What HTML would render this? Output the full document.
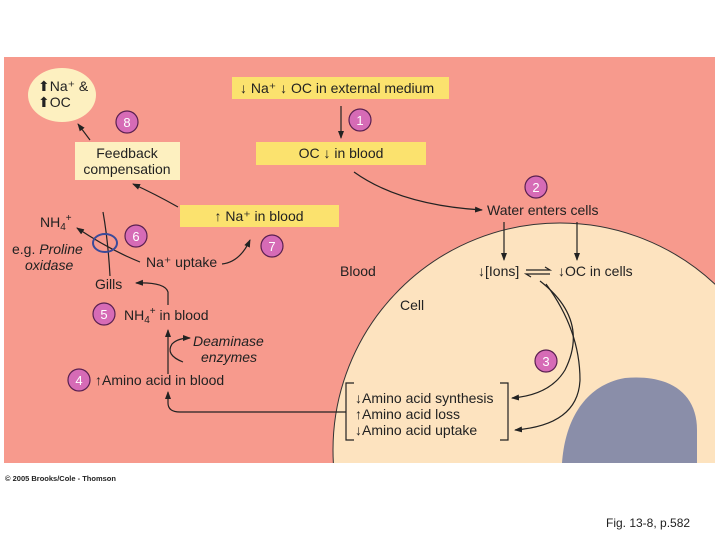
<!DOCTYPE html>
<html><head><meta charset="utf-8"><style>
html,body{margin:0;padding:0;background:#fff;width:720px;height:540px;overflow:hidden}
svg{display:block}
svg text{font-family:"Liberation Sans",sans-serif;fill:#222}
</style></head><body>
<svg width="720" height="540" viewBox="0 0 720 540" xmlns="http://www.w3.org/2000/svg">
<defs>
<clipPath id="pc"><rect x="4" y="57" width="711" height="406"/></clipPath>
<marker id="a" markerWidth="8" markerHeight="8" refX="7" refY="4" orient="auto" markerUnits="userSpaceOnUse"><path d="M0,1 L8,4 L0,7 Z" fill="#222"/></marker>
</defs>
<rect x="4" y="57" width="711" height="406" fill="#f79a8d"/>
<g clip-path="url(#pc)">
<circle cx="560" cy="450" r="227" fill="#fde3bf" stroke="#333" stroke-width="1"/>
<path d="M562,463 C565,420 585,385 625,378 C668,374 697,392 697,430 L697,470 L562,470 Z" fill="#8a8ea9"/>
</g>
<ellipse cx="62" cy="95" rx="34" ry="27" fill="#fdf0c0"/>
<text x="38" y="91" font-size="14">⬆Na⁺ &amp;</text>
<text x="38" y="107" font-size="14">⬆OC</text>
<rect x="232" y="77" width="217" height="22" fill="#fbe26e"/>
<text x="240" y="93" font-size="14">↓ Na⁺ ↓ OC in external medium</text>
<rect x="256" y="142" width="170" height="23" fill="#fbe26e"/>
<text x="341" y="158" font-size="14" text-anchor="middle">OC ↓ in blood</text>
<rect x="180" y="205" width="159" height="22" fill="#fbe26e"/>
<text x="259" y="221" font-size="14" text-anchor="middle">↑ Na⁺ in blood</text>
<rect x="75" y="142" width="105" height="38" fill="#fdf0c0"/>
<text x="127" y="158" font-size="14" text-anchor="middle">Feedback</text>
<text x="127" y="174" font-size="14" text-anchor="middle">compensation</text>
<g stroke="#5a2050" stroke-width="1.2" fill="#d66bb6">
<circle cx="360" cy="120" r="11"/><circle cx="536" cy="187" r="11"/><circle cx="546" cy="361" r="11"/>
<circle cx="79" cy="380" r="11"/><circle cx="104" cy="314" r="11"/><circle cx="136" cy="236" r="11"/>
<circle cx="272" cy="246" r="11"/><circle cx="127" cy="122" r="11"/>
</g>
<g font-size="13" text-anchor="middle">
<text x="360" y="125" style="fill:#fff">1</text><text x="536" y="192" style="fill:#fff">2</text><text x="546" y="366" style="fill:#fff">3</text>
<text x="79" y="385" style="fill:#fff">4</text><text x="104" y="319" style="fill:#fff">5</text><text x="136" y="241" style="fill:#fff">6</text>
<text x="272" y="251" style="fill:#fff">7</text><text x="127" y="127" style="fill:#fff">8</text>
</g>
<text x="487" y="215" font-size="14">Water enters cells</text>
<text x="478" y="276" font-size="14">↓[Ions]</text>
<text x="558" y="276" font-size="14">↓OC in cells</text>
<text x="340" y="276" font-size="14">Blood</text>
<text x="400" y="310" font-size="14">Cell</text>
<text x="355" y="403" font-size="14">↓Amino acid synthesis</text>
<text x="355" y="419" font-size="14">↑Amino acid loss</text>
<text x="355" y="435" font-size="14">↓Amino acid uptake</text>
<text x="40" y="227" font-size="14">NH<tspan font-size="10" dy="3">4</tspan><tspan font-size="10" dy="-9">+</tspan></text>
<text x="12" y="254" font-size="14">e.g. <tspan font-style="italic">Proline</tspan></text>
<text x="25" y="270" font-size="14" font-style="italic">oxidase</text>
<text x="146" y="267" font-size="14">Na⁺ uptake</text>
<text x="95" y="289" font-size="14">Gills</text>
<text x="124" y="320" font-size="14">NH<tspan font-size="10" dy="3">4</tspan><tspan font-size="10" dy="-9">+</tspan><tspan dy="6"> in blood</tspan></text>
<text x="193" y="346" font-size="14" font-style="italic">Deaminase</text>
<text x="201" y="362" font-size="14" font-style="italic">enzymes</text>
<text x="95" y="385" font-size="14">↑Amino acid in blood</text>
<text x="5" y="481" font-size="7.5" font-weight="bold">© 2005 Brooks/Cole - Thomson</text>
<text x="606" y="527" font-size="12">Fig. 13-8, p.582</text>
<g fill="none" stroke="#222" stroke-width="1.2">
<path d="M341,106 V138" marker-end="url(#a)"/>
<path d="M354,172 Q400,205 482,210" marker-end="url(#a)"/>
<path d="M504,222 V260" marker-end="url(#a)"/>
<path d="M577,222 V260" marker-end="url(#a)"/>
<path d="M526,270 H550 L545,267 M550,274 H526 L531,277"/>
<path d="M540,281 Q590,320 565,370 Q550,395 512,398" marker-end="url(#a)"/>
<path d="M546,284 Q580,330 580,380 Q578,425 515,430" marker-end="url(#a)"/>
<path d="M354,383 H346 V440 H354 M500,383 H508 V440 H500"/>
<path d="M346,412 H180 Q168,412 168,403 V392" marker-end="url(#a)"/>
<path d="M168,374 V330" marker-end="url(#a)"/>
<path d="M183,362 Q165,355 172,344 Q178,338 190,338" marker-end="url(#a)"/>
<path d="M168,305 V292 Q165,282 136,283" marker-end="url(#a)"/>
<path d="M222,264 Q240,262 250,240" marker-end="url(#a)"/>
<path d="M178,207 Q155,194 133,184" marker-end="url(#a)"/>
<path d="M90,140 L78,124" marker-end="url(#a)"/>
<path d="M103,212 Q108,240 110,276"/>
<path d="M140,262 Q110,250 77,228" marker-end="url(#a)"/>
</g>
<ellipse cx="105" cy="243" rx="12" ry="9" fill="none" stroke="#3a4a9a" stroke-width="2"/>
</svg>
</body></html>
